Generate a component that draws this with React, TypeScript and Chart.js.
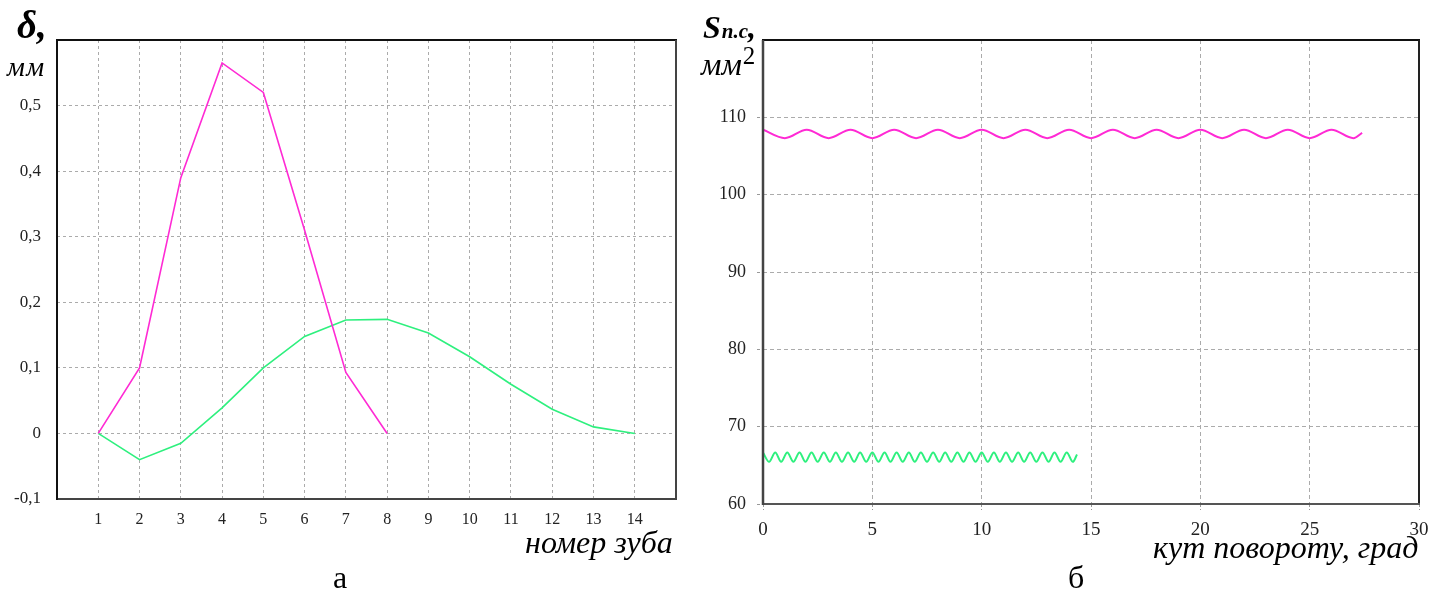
import React, { useEffect, useRef } from 'react';
import { Chart, registerables } from 'chart.js';
Chart.register(...registerables);

// ---- Left chart (а): deflection δ, мм vs tooth number ----
const toothNumbers = [1, 2, 3, 4, 5, 6, 7, 8, 9, 10, 11, 12, 13, 14];
const deltaTicks = [-0.1, 0, 0.1, 0.2, 0.3, 0.4, 0.5];
const deltaMagentaTeeth = [1, 2, 3, 4, 5, 6, 7, 8];
const deltaMagenta = [0, 0.1, 0.39, 0.565, 0.52, 0.31, 0.093, 0];
const deltaGreen = [0, -0.04, -0.015, 0.039, 0.1, 0.148, 0.173, 0.174, 0.153, 0.117, 0.075, 0.037, 0.01, 0];

// ---- Right chart (б): S n.c, мм² vs rotation angle ----
const angleTicks = [0, 5, 10, 15, 20, 25, 30];
const areaTicks = [60, 70, 80, 90, 100, 110];
const magentaAngles = [0, 1, 2, 3, 4, 5, 6, 7, 8, 9, 10, 11, 12, 13, 14, 15, 16, 17, 18, 19, 20, 21, 22, 23, 24, 25, 26, 27, 27.4];
const magentaArea = [
  108.4, 107.3, 108.4, 107.3, 108.4, 107.3, 108.4, 107.3, 108.4, 107.3,
  108.4, 107.3, 108.4, 107.3, 108.4, 107.3, 108.4, 107.3, 108.4, 107.3,
  108.4, 107.3, 108.4, 107.3, 108.4, 107.3, 108.4, 107.3, 108.0,
];
const greenAngles = [
  0, 0.28, 0.56, 0.83, 1.11, 1.39, 1.67, 1.94, 2.22, 2.5,
  2.78, 3.06, 3.33, 3.61, 3.89, 4.17, 4.44, 4.72, 5.0, 5.28,
  5.56, 5.83, 6.11, 6.39, 6.67, 6.94, 7.22, 7.5, 7.78, 8.06,
  8.33, 8.61, 8.89, 9.17, 9.44, 9.72, 10.0, 10.28, 10.56, 10.83,
  11.11, 11.39, 11.67, 11.94, 12.22, 12.5, 12.78, 13.06, 13.33, 13.61,
  13.89, 14.17, 14.36,
];
const greenArea = [
  66.65, 65.45, 66.65, 65.45, 66.65, 65.45, 66.65, 65.45, 66.65, 65.45,
  66.65, 65.45, 66.65, 65.45, 66.65, 65.45, 66.65, 65.45, 66.65, 65.45,
  66.65, 65.45, 66.65, 65.45, 66.65, 65.45, 66.65, 65.45, 66.65, 65.45,
  66.65, 65.45, 66.65, 65.45, 66.65, 65.45, 66.65, 65.45, 66.65, 65.45,
  66.65, 65.45, 66.65, 65.45, 66.65, 65.45, 66.65, 65.45, 66.65, 65.45,
  66.65, 65.45, 66.4,
];

const MAGENTA = '#ff2ad4';
const GREEN = '#2ef07e';
const GRID = '#ababab';
const SERIF = "'Liberation Serif', 'Times New Roman', serif";

const framePlugin = {
  id: 'frame',
  afterDraw(chart: any, _args: any, opts: any) {
    const { ctx, chartArea: a } = chart;
    const side = (color: string, w: number, x1: number, y1: number, x2: number, y2: number) => {
      ctx.save();
      ctx.strokeStyle = color;
      ctx.lineWidth = w;
      ctx.setLineDash([]);
      ctx.beginPath();
      ctx.moveTo(x1, y1);
      ctx.lineTo(x2, y2);
      ctx.stroke();
      ctx.restore();
    };
    side(opts.top, 2, a.left - 1, a.top, a.right + 1, a.top);
    side(opts.right, 2, a.right, a.top, a.right, a.bottom + 1);
    side(opts.bottom, 2, a.left - 1, a.bottom, a.right + 1, a.bottom);
    side(opts.left, opts.leftWidth || 2, a.left, a.top, a.left, a.bottom + 1);
  },
};

function useChart(ref: React.RefObject<HTMLCanvasElement>, make: (c: HTMLCanvasElement) => Chart) {
  useEffect(() => {
    if (!ref.current) return;
    const ch = make(ref.current);
    return () => ch.destroy();
  }, []);
}

const fmt = (v: any) => String(v).replace('.', ',');

function LeftChart() {
  const ref = useRef<HTMLCanvasElement>(null);
  useChart(ref, (c) =>
    new Chart(c, {
      type: 'line',
      data: {
        datasets: [
          {
            data: deltaMagentaTeeth.map((x, i) => ({ x, y: deltaMagenta[i] })),
            borderColor: MAGENTA,
            borderWidth: 1.6,
            pointRadius: 0,
            tension: 0,
            fill: false,
          },
          {
            data: toothNumbers.map((x, i) => ({ x, y: deltaGreen[i] })),
            borderColor: GREEN,
            borderWidth: 1.6,
            pointRadius: 0,
            tension: 0,
            fill: false,
          },
        ],
      },
      plugins: [framePlugin],
      options: {
        animation: false,
        responsive: false,
        maintainAspectRatio: false,
        devicePixelRatio: 1,
        layout: { padding: { top: 40, right: 24, left: 0, bottom: 0 } },
        plugins: {
          legend: { display: false },
          tooltip: { enabled: false },
          frame: { top: '#111', right: '#444', bottom: '#444', left: '#111' },
        } as any,
        scales: {
          x: {
            type: 'linear',
            min: 0,
            max: 15,
            afterBuildTicks: (s: any) => {
              s.ticks = toothNumbers.map((v) => ({ value: v }));
            },
            afterFit: (s: any) => {
              s.height = 93;
            },
            grid: { color: GRID, lineWidth: 1, drawTicks: false },
            border: { display: false, dash: [3, 3] },
            ticks: {
              autoSkip: false,
              maxRotation: 0,
              padding: 11,
              color: '#222',
              font: { family: SERIF, size: 16 },
              callback: fmt,
            },
          },
          y: {
            type: 'linear',
            min: -0.1,
            max: 0.6,
            afterBuildTicks: (s: any) => {
              s.ticks = deltaTicks.map((v) => ({ value: v }));
            },
            afterFit: (s: any) => {
              s.width = 57;
            },
            grid: { color: GRID, lineWidth: 1, drawTicks: false },
            border: { display: false, dash: [3, 3] },
            ticks: {
              autoSkip: false,
              padding: 16,
              color: '#222',
              font: { family: SERIF, size: 17 },
              callback: fmt,
            },
          },
        },
      },
    } as any)
  );
  return <canvas ref={ref} width={700} height={592} style={{ position: 'absolute', left: 0, top: 0, width: 700, height: 592 }} />;
}

function RightChart() {
  const ref = useRef<HTMLCanvasElement>(null);
  useChart(ref, (c) =>
    new Chart(c, {
      type: 'line',
      data: {
        datasets: [
          {
            data: magentaAngles.map((x, i) => ({ x, y: magentaArea[i] })),
            borderColor: MAGENTA,
            borderWidth: 2,
            pointRadius: 0,
            cubicInterpolationMode: 'monotone',
            fill: false,
          },
          {
            data: greenAngles.map((x, i) => ({ x, y: greenArea[i] })),
            borderColor: GREEN,
            borderWidth: 2,
            pointRadius: 0,
            cubicInterpolationMode: 'monotone',
            fill: false,
          },
        ],
      },
      plugins: [framePlugin],
      options: {
        animation: false,
        responsive: false,
        maintainAspectRatio: false,
        devicePixelRatio: 1,
        layout: { padding: { top: 40, right: 26, left: 0, bottom: 0 } },
        plugins: {
          legend: { display: false },
          tooltip: { enabled: false },
          frame: { top: '#111', right: '#222', bottom: '#555', left: '#444', leftWidth: 2.5 },
        } as any,
        scales: {
          x: {
            type: 'linear',
            min: 0,
            max: 30,
            afterBuildTicks: (s: any) => {
              s.ticks = angleTicks.map((v) => ({ value: v }));
            },
            afterFit: (s: any) => {
              s.height = 88;
            },
            grid: { color: GRID, lineWidth: 1, drawTicks: true, tickLength: 6, tickColor: '#999', tickBorderDash: [3, 2] },
            border: { display: false, dash: [4, 3] },
            ticks: {
              autoSkip: false,
              maxRotation: 0,
              padding: 9,
              color: '#222',
              font: { family: SERIF, size: 19 },
            },
          },
          y: {
            type: 'linear',
            min: 60,
            max: 120,
            afterBuildTicks: (s: any) => {
              s.ticks = areaTicks.map((v) => ({ value: v }));
            },
            afterFit: (s: any) => {
              s.width = 63;
            },
            grid: { color: GRID, lineWidth: 1, drawTicks: true, tickLength: 6, tickColor: '#999', tickBorderDash: [3, 2] },
            border: { display: false, dash: [4, 3] },
            ticks: {
              autoSkip: false,
              padding: 11,
              color: '#222',
              font: { family: SERIF, size: 18 },
            },
          },
        },
      },
    } as any)
  );
  return <canvas ref={ref} width={745} height={592} style={{ position: 'absolute', left: 700, top: 0, width: 745, height: 592 }} />;
}

const txt = (extra: React.CSSProperties): React.CSSProperties => ({
  position: 'absolute',
  fontFamily: SERIF,
  lineHeight: 1,
  color: '#000',
  whiteSpace: 'nowrap',
  margin: 0,
  ...extra,
});

export default function App() {
  return (
    <div style={{ position: 'fixed', left: 0, top: 0, width: 1445, height: 592, background: '#fff', overflow: 'hidden' }}>
      <LeftChart />
      <RightChart />
      {/* left chart labels */}
      <div style={txt({ left: 17, top: 5, fontSize: 39, fontWeight: 'bold', fontStyle: 'italic' })}>δ,</div>
      <div style={txt({ left: 7, top: 53, fontSize: 28, fontStyle: 'italic', letterSpacing: 1.5 })}>мм</div>
      <div style={txt({ left: 525, top: 526, fontSize: 32, fontStyle: 'italic' })}>номер зуба</div>
      <div style={txt({ left: 333, top: 561, fontSize: 32 })}>а</div>
      {/* right chart labels */}
      <div style={txt({ left: 703, top: 11, fontSize: 32, fontWeight: 'bold', fontStyle: 'italic' })}>
        <span style={{ fontSize: 32, letterSpacing: 1 }}>S</span>
        <span style={{ fontSize: 21 }}>n.c</span>
        <span style={{ fontSize: 32 }}>,</span>
      </div>
      <div style={txt({ left: 701, top: 48, fontSize: 32, fontStyle: 'italic' })}>
        мм<span style={{ fontStyle: 'normal', fontSize: 25, position: 'relative', top: -11, marginLeft: 1 }}>2</span>
      </div>
      <div style={txt({ left: 1153, top: 531, fontSize: 32, fontStyle: 'italic' })}>кут повороту, град</div>
      <div style={txt({ left: 1068, top: 561, fontSize: 32 })}>б</div>
    </div>
  );
}
